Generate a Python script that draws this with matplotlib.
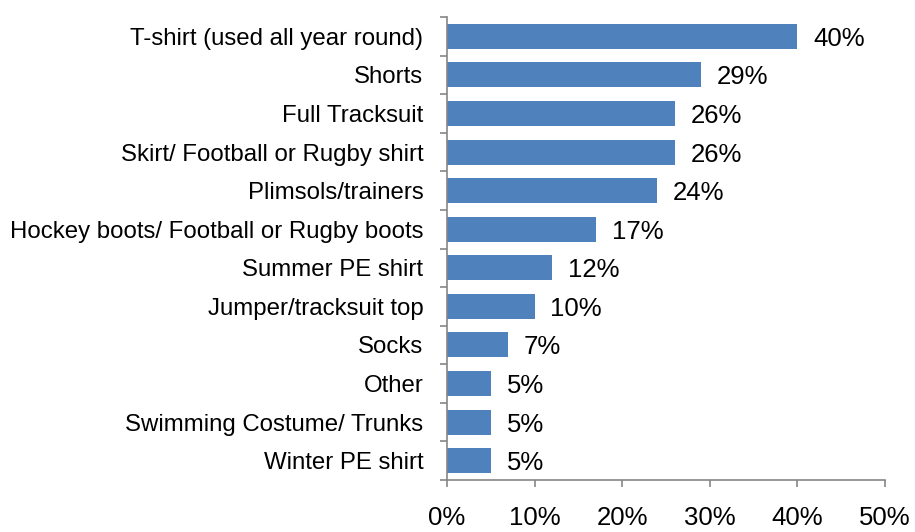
import matplotlib
matplotlib.use("Agg")
import matplotlib.pyplot as plt
import numpy as np

categories = ["T-shirt (used all year round)", "Shorts", "Full Tracksuit",
              "Skirt/ Football or Rugby shirt", "Plimsols/trainers",
              "Hockey boots/ Football or Rugby boots", "Summer PE shirt",
              "Jumper/tracksuit top", "Socks", "Other",
              "Swimming Costume/ Trunks", "Winter PE shirt"]
values = [40, 29, 26, 26, 24, 17, 12, 10, 7, 5, 5, 5]
xticks = [0, 10, 20, 30, 40, 50]

plt.rcParams['font.family'] = ['Liberation Sans', 'DejaVu Sans']

fig = plt.figure(figsize=(9.15, 5.32), dpi=100)
ax = fig.add_axes([447/915, 1 - 480/532, (885 - 447)/915, (480 - 17)/532])

n = len(categories)
y = np.arange(n)[::-1]
ax.barh(y, values, height=0.65, color="#4F81BD")

for yi, v in zip(y, values):
    ax.text(v + 1.8, yi, f"{v}%", va="center_baseline", ha="left", fontsize=18.5)

ax.set_xlim(0, 50)
ax.set_ylim(-0.5, n - 0.5)
ax.set_xticks(xticks)
ax.set_xticklabels([f"{t}%" for t in xticks], fontsize=18.5)
ax.set_yticks(y)
ax.set_yticklabels(categories, fontsize=17.3)
ax.set_yticks(np.arange(-0.5, n, 1), minor=True)

gray = "#868686"
for s in ["top", "right"]:
    ax.spines[s].set_visible(False)
for s in ["left", "bottom"]:
    ax.spines[s].set_color(gray)
    ax.spines[s].set_linewidth(1.2)

ax.tick_params(axis="y", which="major", length=0, pad=17)
ax.tick_params(axis="y", which="minor", length=5, color=gray, width=1.2)
ax.tick_params(axis="x", length=5, color=gray, width=1.2, pad=14)

fig.savefig("out.png", dpi=100)
